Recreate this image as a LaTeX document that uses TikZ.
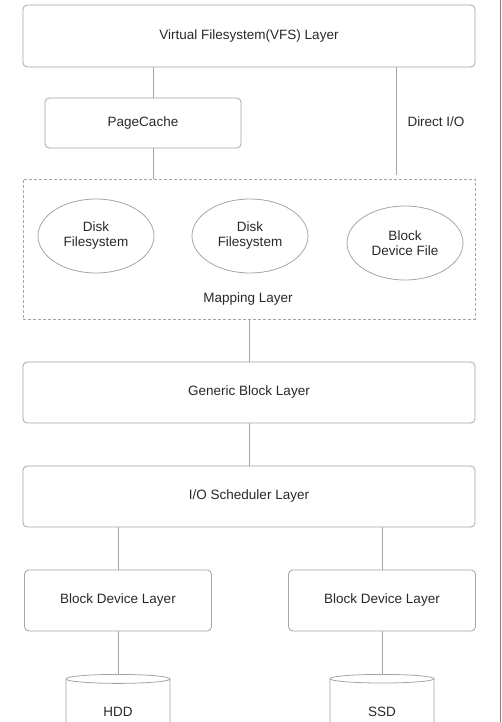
\documentclass[tikz,border=0pt]{standalone}
\usepackage{fontspec}
\setmainfont{Liberation Sans}
\usetikzlibrary{shapes.geometric,positioning}

\definecolor{linegray}{RGB}{165,165,165}
\definecolor{textgray}{RGB}{40,40,40}

\begin{document}
\begin{tikzpicture}[x=1pt, y=-1pt, line width=0.8pt,
                    every node/.style={font=\fontsize{13.5}{15}\selectfont},
                    layer/.style={rectangle, draw=linegray, rounded corners=0.8ex, text=textgray, minimum height=61pt},
                    mapping/.style={rectangle, draw=linegray, dash pattern=on 3pt off 2pt, minimum width=452pt, minimum height=140pt},
                    fsnode/.style={ellipse, draw=linegray, text=textgray, align=center, minimum width=116pt, minimum height=74pt, inner sep=0pt},
                    disk/.style={cylinder, shape border rotate=90, draw=linegray, text=textgray, aspect=0.25, minimum width=104pt, minimum height=68pt},
                    plaintext/.style={text=textgray},
                    link/.style={draw=linegray},
                    ]
\useasboundingbox (0,0) rectangle (501,722);
\clip (0,0) rectangle (501,722);

\node[layer, minimum width=452pt, minimum height=62pt] (vfs) at (249,36) {Virtual Filesystem(VFS) Layer};
\node[layer, minimum width=196pt, minimum height=50pt] (cache) at (143,123) {PageCache};
\node[plaintext] (direct) at (436,122) {Direct I/O};
\coordinate (dio) at (396,0);

%% mapping layer
\node[mapping] (map) at (249,249) {};
\node[fsnode] (fsa) at (96,236) {Disk\\Filesystem};
\node[fsnode] (fsb) at (250,236) {Disk\\Filesystem};
\node[fsnode] (bdf) at (405,243) {Block\\Device File};
\node[plaintext] (maplabel) at (248,299) {Mapping Layer};

\node[layer, minimum width=452pt] (generic) at (249,392.5) {Generic Block Layer};
\node[layer, minimum width=452pt] (sched) at (249,496.5) {I/O Scheduler Layer};
\node[layer, minimum width=187pt] (bdl1) at (118,600.5) {Block Device Layer};
\node[layer, minimum width=187pt] (bdl2) at (382,600.5) {Block Device Layer};
\node[disk, anchor=north] (hdd) at (118,674) {HDD};
\node[disk, anchor=north] (ssd) at (382,674) {SSD};

\draw[link] ([xshift=10pt]cache.north) -- ([xshift=10pt]cache.north |- vfs.south);
\draw[link] ([xshift=10pt]cache.south) -- ([xshift=10pt]cache.south |- map.north);
\draw[link] (vfs.south -| dio) -- ([yshift=4pt]map.north -| dio);
\draw[link] (map.south) -- (generic.north);
\draw[link] (generic.south) -- (sched.north);
\draw[link] (bdl1.north) -- (bdl1.north |- sched.south);
\draw[link] (bdl2.north) -- (bdl2.north |- sched.south);
\draw[link] (bdl1.south) -- (hdd.north);
\draw[link] (bdl2.south) -- (ssd.north);

%% right edge
\draw[gray, line width=1pt] (500.3,0) -- (500.3,722);
\end{tikzpicture}
\end{document}
